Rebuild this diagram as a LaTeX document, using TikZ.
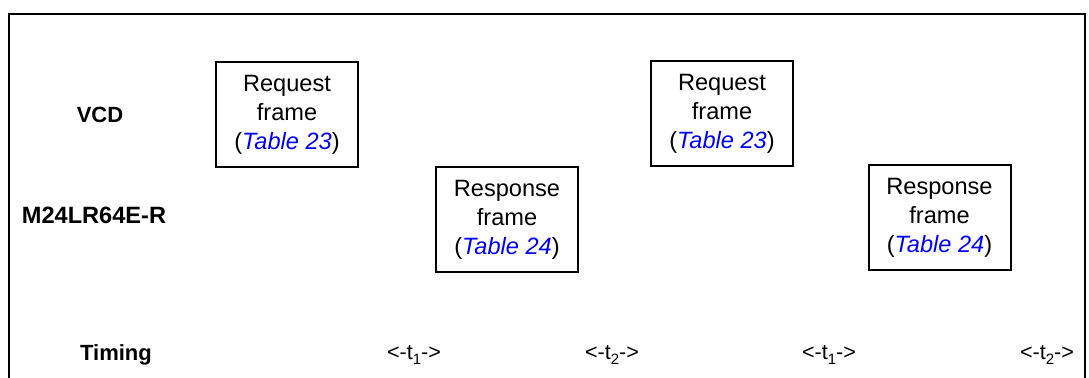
\documentclass[tikz,border=0pt]{standalone}
\usepackage{fontspec}
\setmainfont{Liberation Sans}
\definecolor{refblue}{RGB}{0,0,255}
\newcommand{\tref}[1]{\textcolor{refblue}{\textit{#1}}}
\newcommand{\tsub}[1]{\raisebox{-0.45ex}{\fontsize{7.5}{8}\selectfont #1}}
\tikzset{
  framebox/.style={draw, line width=1pt, minimum width=71pt, minimum height=52.5pt,
    align=center, inner sep=0pt, font=\fontsize{11.8}{14.5}\selectfont},
  lbl/.style={inner sep=0pt, font=\fontsize{11}{13}\selectfont\bfseries},
  tlbl/.style={inner sep=0pt, font=\fontsize{10.8}{13}\selectfont},
}
\begin{document}
\begin{tikzpicture}[x=0.5pt,y=-0.5pt]
\useasboundingbox (0,0) rectangle (1089,378);
\coordinate (fbl) at (9,378);
\coordinate (ftl) at (9,14);
\coordinate (ftr) at (1085,14);
\coordinate (fbr) at (1085,378);
\draw[line width=1pt] (fbl) -- (ftl) -- (ftr) -- (fbr);

\node[framebox] (req1) at (287,114.5) {Request\\frame\\(\tref{Table 23})};
\node[framebox] (resp1) at (507,219.5) {Response\\frame\\(\tref{Table 24})};
\node[framebox] (req2) at (722,114) {Request\\frame\\(\tref{Table 23})};
\node[framebox] (resp2) at (939.5,218) {Response\\frame\\(\tref{Table 24})};

\node[lbl] (vcd) at (100,115) {VCD};
\node[lbl, font=\fontsize{11.8}{13}\selectfont\bfseries] (m24) at (94,215) {M24LR64E-R};
\node[lbl] (timing) at (116,355) {Timing};

\node[tlbl] (ta) at (414,355) {<-t\tsub{1}->};
\node[tlbl] (tb) at (612,355) {<-t\tsub{2}->};
\node[tlbl] (tc) at (829,355) {<-t\tsub{1}->};
\node[tlbl] (td) at (1047,355) {<-t\tsub{2}->};
\end{tikzpicture}
\end{document}
